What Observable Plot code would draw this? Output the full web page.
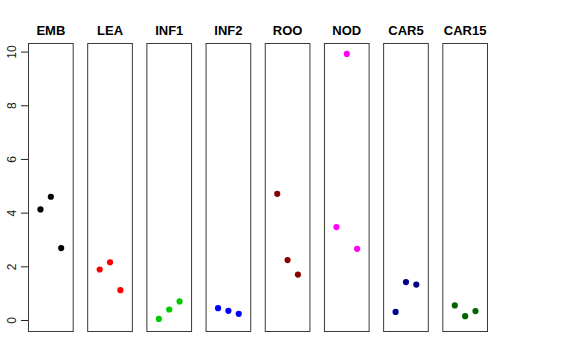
<!DOCTYPE html>
<html>
<head>
<meta charset="utf-8">
<script src="https://cdn.jsdelivr.net/npm/d3@7"></script>
<script src="https://cdn.jsdelivr.net/npm/@observablehq/plot@0.6"></script>
<style>
  html, body { margin: 0; padding: 0; background: #fff; }
  #chart svg { font-family: "Liberation Sans", Arial, Helvetica, sans-serif; }
</style>
</head>
<body>
<div id="chart"></div>
<script>
// Panels (tissues) and their colours
const panels = ["EMB", "LEA", "INF1", "INF2", "ROO", "NOD", "CAR5", "CAR15"];
const colors = ["#000000", "#FF0000", "#00CD00", "#0000FF", "#8B0000", "#FF00FF", "#00008B", "#006400"];
// Replicate positions within each panel
const reps = [1, 2, 3];
// Values per panel (replicates 1..3)
const EMB = [4.14, 4.61, 2.70];
const LEA = [1.90, 2.17, 1.13];
const INF1 = [0.06, 0.41, 0.71];
const INF2 = [0.46, 0.36, 0.25];
const ROO = [4.72, 2.25, 1.71];
const NOD = [3.48, 9.93, 2.67];
const CAR5 = [0.32, 1.43, 1.34];
const CAR15 = [0.56, 0.16, 0.35];
const yTicks = [0, 2, 4, 6, 8, 10];

const series = [EMB, LEA, INF1, INF2, ROO, NOD, CAR5, CAR15];
const data = [];
panels.forEach((p, i) => {
  series[i].forEach((v, j) => data.push({panel: p, rep: reps[j], value: v, color: colors[i]}));
});

const chart = Plot.plot({
  width: 576,
  height: 360,
  marginLeft: 28,
  marginRight: 89,
  marginTop: 43,
  marginBottom: 29,
  fx: {domain: panels, paddingInner: 0.245, paddingOuter: 0, round: false, axis: null, label: null},
  x: {domain: [-0.16, 4.16], axis: null},
  y: {domain: [-0.41, 10.32], axis: null},
  marks: [
    Plot.frame({stroke: "#3a3a3a", strokeWidth: 1}),
    Plot.axisY({ticks: yTicks, tickSize: 7, tickRotate: -90, tickPadding: 6, fontSize: 12, color: "#222", label: null}),
    Plot.text(panels, {fx: d => d, text: d => d, frameAnchor: "top", dy: -9, lineAnchor: "bottom", fontWeight: "bold", fontSize: 13, fill: "#000"}),
    Plot.dot(data, {fx: "panel", x: "rep", y: "value", fill: "color", r: 3.1, stroke: "none"})
  ]
});
document.getElementById("chart").append(chart);
</script>
</body>
</html>
